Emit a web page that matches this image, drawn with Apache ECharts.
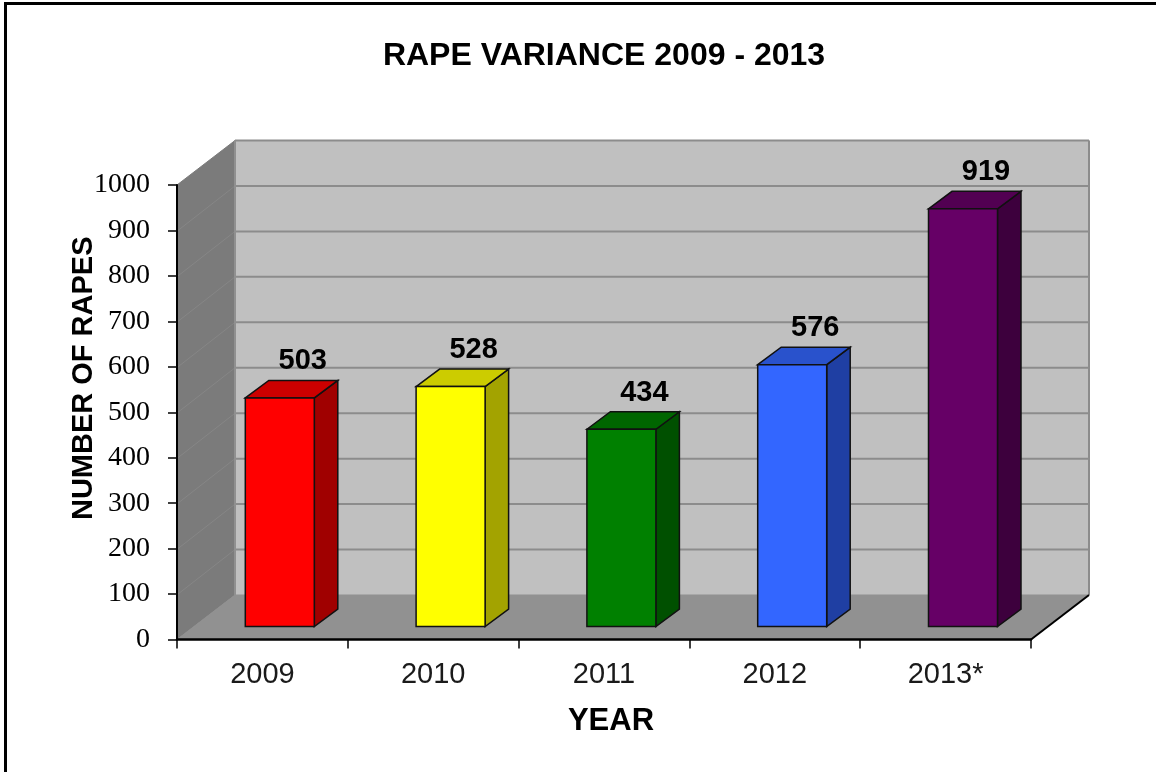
<!DOCTYPE html>
<html><head><meta charset="utf-8">
<style>html,body{margin:0;padding:0;background:#fff}#c{width:1156px;height:772px}</style>
<script src="https://cdn.jsdelivr.net/npm/echarts@6/dist/echarts.min.js"></script>
</head><body><div id="c"></div>
<script>
const categories = ['2009','2010','2011','2012','2013*'];
const values = [503,528,434,576,919];
const frontColors = ['#ff0000','#ffff00','#008000','#3366ff','#660066'];
const topColors = ['#cc0000','#cccc00','#006600','#2952cc','#520052'];
const sideColors = ['#a00000','#a3a300','#005000','#1f3fa3','#3d003d'];
const yTicks = [0,100,200,300,400,500,600,700,800,900,1000];

const WALL_DX = 58, WALL_DY = -44.5;   // depth of the box
const BAR_DX = 17.4, BAR_DY = -13;     // bars stand inside the box
const DEPTH_DX = 23.5, DEPTH_DY = -17.5; // bar depth
const BAR_W = 69;

function poly(points, fill, stroke, lw){
  return {type:'polygon', shape:{points}, style:{fill, stroke: stroke||fill, lineWidth: lw==null?1:lw}};
}
function line(a,b,stroke,lw){
  return {type:'line', shape:{x1:a[0],y1:a[1],x2:b[0],y2:b[1]}, style:{stroke,lineWidth:lw,fill:null}};
}
function renderBox(params, api){
  const cs = params.coordSys;
  const l = cs.x, r = cs.x+cs.width;
  const y0 = api.coord([0,0])[1], yT = api.coord([0,1000])[1];
  const kids = [];
  if (params.dataIndex === 0) {
    kids.push(poly([[l+WALL_DX,yT+WALL_DY],[r+WALL_DX,yT+WALL_DY],[r+WALL_DX,y0+WALL_DY],[l+WALL_DX,y0+WALL_DY]],'#c0c0c0'));
    kids.push(poly([[l,yT],[l+WALL_DX,yT+WALL_DY],[l+WALL_DX,y0+WALL_DY],[l,y0]],'#7b7b7b'));
    kids.push(poly([[l,y0],[l+WALL_DX,y0+WALL_DY],[r+WALL_DX,y0+WALL_DY],[r,y0]],'#919191'));
    yTicks.forEach(t=>{
      const y = api.coord([0,t])[1];
      if (t>0) kids.push(line([l+WALL_DX,y+WALL_DY],[r+WALL_DX,y+WALL_DY],'#8c8c8c',2));
      if (t>0 && t<1000) kids.push(line([l+1,y],[l+WALL_DX,y+WALL_DY],'#868686',1));
    });
    kids.push(line([l+WALL_DX,yT+WALL_DY],[l+WALL_DX,y0+WALL_DY],'#909090',2));
    kids.push(line([r+WALL_DX,yT+WALL_DY],[r+WALL_DX,y0+WALL_DY],'#8c8c8c',2));
    kids.push(line([r,y0],[r+WALL_DX,y0+WALL_DY],'#000',2));
  }
  return {type:'group', children:kids};
}
function renderBar(params, api){
  const i = api.value(0), v = api.value(1);
  const top = api.coord([i,v]), bot = api.coord([i,0]);
  const xl = top[0]+BAR_DX-BAR_W/2, xr = xl+BAR_W;
  const yt = top[1]+BAR_DY, yb = bot[1]+BAR_DY;
  const d = DEPTH_DX, e = DEPTH_DY;
  const s = '#111';
  return {type:'group', children:[
    poly([[xr,yt],[xr+d,yt+e],[xr+d,yb+e],[xr,yb]],sideColors[i],s,1.5),
    poly([[xl,yt],[xl+d,yt+e],[xr+d,yt+e],[xr,yt]],topColors[i],s,1.5),
    poly([[xl,yt],[xr,yt],[xr,yb],[xl,yb]],frontColors[i],s,1.5),
    {type:'text', style:{text:String(v), x:top[0]+BAR_DX+23, y:yt-36.5, textAlign:'center', textVerticalAlign:'middle',
      font:'bold 29px "Liberation Sans"', fill:'#000'}}
  ]};
}
const chart = echarts.init(document.getElementById('c'), null, {renderer:'canvas'});
chart.setOption({
  animation:false,
  backgroundColor:'#fff',
  title:{text:'RAPE VARIANCE 2009 - 2013', left:599, top:35, textAlign:'center',
    textStyle:{fontFamily:'Liberation Sans',fontSize:32,fontWeight:'bold',color:'#000'}},
  grid:{left:177,top:185,width:854,height:454.5},
  xAxis:{type:'category',data:categories,name:'YEAR',nameLocation:'middle',nameGap:66,
    nameTextStyle:{fontFamily:'Liberation Sans',fontSize:31,fontWeight:'bold',color:'#000',padding:[0,0,0,14]},
    axisLine:{lineStyle:{color:'#000',width:2.5}},
    axisTick:{show:true,length:9,alignWithLabel:false,lineStyle:{color:'#000',width:1.5}},
    axisLabel:{fontFamily:'Liberation Sans',fontSize:29,color:'#1a1a1a',margin:21},
    z:5},
  yAxis:{type:'value',min:0,max:1000,interval:100,name:'NUMBER OF RAPES',nameLocation:'middle',nameGap:79,nameMoveOverlap:false,
    nameTextStyle:{fontFamily:'Liberation Sans',fontSize:29,fontWeight:'bold',color:'#000',padding:[0,0,0,68]},
    axisLine:{show:true,lineStyle:{color:'#000',width:2}},
    axisTick:{show:true,length:9,lineStyle:{color:'#000',width:1.5}},
    axisLabel:{fontFamily:'Liberation Serif',fontSize:28,color:'#000',margin:27,formatter:v=>String(v)},
    splitLine:{show:false},z:5},
  graphic:[
    {type:'line',shape:{x1:4,y1:3.5,x2:1156,y2:3.5},style:{stroke:'#000',lineWidth:3}},
    {type:'line',shape:{x1:5.5,y1:3,x2:5.5,y2:772},style:{stroke:'#000',lineWidth:3}}
  ],
  series:[
    {type:'custom',name:'box',coordinateSystem:'cartesian2d',renderItem:renderBox,silent:true,clip:false,z:1,
      data:[[0,0]],encode:{x:0,y:1}},
    {type:'custom',name:'Rapes',coordinateSystem:'cartesian2d',renderItem:renderBar,clip:false,z:2,
      data:values.map((v,i)=>[i,v]),encode:{x:0,y:1}}
  ]
});
</script></body></html>
